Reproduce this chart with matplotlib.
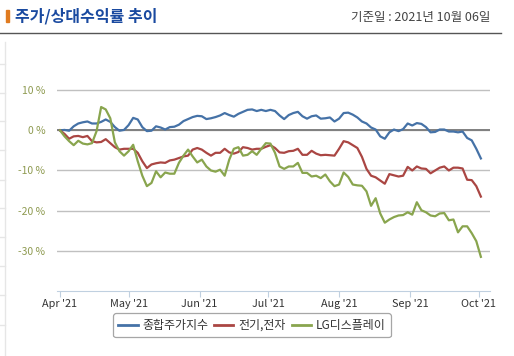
import matplotlib
matplotlib.use("Agg")
import matplotlib.pyplot as plt
from matplotlib.patches import Rectangle
from matplotlib.lines import Line2D
import pandas as pd

plt.rcParams['font.family'] = ['Noto Sans CJK KR', 'DejaVu Sans']

# one point every 2 calendar days from Apr 1 2021
dates = pd.date_range("2021-04-01", periods=93, freq="2D")

kospi = [0.0, 0.1, -0.1, 1.0, 1.7, 2.0, 2.2, 1.7, 1.7, 2.1,
         2.7, 2.1, 0.8, -0.1, 0.1, 1.3, 3.1, 2.7, 0.8, -0.2,
         -0.1, 1.0, 0.7, 0.2, 0.8, 0.9, 1.4, 2.3, 2.8, 3.3,
         3.6, 3.5, 2.8, 3.0, 3.3, 3.7, 4.3, 3.8, 3.4, 4.1,
         4.6, 5.1, 5.2, 4.8, 5.1, 4.8, 5.1, 4.8, 3.7, 2.8,
         3.8, 4.3, 4.6, 3.5, 2.9, 3.5, 3.7, 2.9, 3.0, 3.2,
         2.2, 2.9, 4.3, 4.4, 3.9, 3.2, 2.2, 1.7, 0.7, 0.2,
         -1.5, -2.1, -0.5, 0.2, -0.2, 0.3, 1.7, 1.2, 1.8, 1.6,
         0.8, -0.5, -0.4, 0.2, 0.2, -0.3, -0.3, -0.5, -0.3, -1.9,
         -2.5, -4.6, -7.0]

elec = [0.0, -0.9, -2.1, -1.5, -1.4, -1.7, -1.4, -2.7, -3.0, -2.9,
        -2.2, -3.2, -4.2, -4.8, -4.6, -4.6, -4.6, -5.6, -7.7, -9.4,
        -8.5, -8.2, -8.0, -8.1, -7.5, -7.3, -6.9, -6.5, -6.3, -4.8,
        -4.4, -4.8, -5.6, -6.3, -5.6, -5.6, -4.6, -5.5, -5.8, -5.4,
        -4.2, -4.4, -4.8, -4.6, -4.6, -4.1, -3.7, -4.4, -5.5, -5.6,
        -5.2, -5.1, -4.6, -6.1, -6.1, -5.1, -5.8, -6.2, -6.1, -6.2,
        -6.3, -4.6, -2.7, -3.0, -3.7, -4.4, -6.6, -9.6, -11.3, -11.7,
        -12.5, -13.3, -10.9, -11.2, -11.5, -11.3, -9.1, -10.0, -9.0, -9.5,
        -9.6, -10.7, -10.0, -9.3, -9.0, -10.0, -9.3, -9.3, -9.5, -12.3,
        -12.4, -13.9, -16.5]

lgd = [0.0, -1.5, -2.7, -3.7, -2.6, -3.3, -3.5, -3.2, -0.2, 5.8,
       5.2, 3.0, -3.0, -5.2, -6.3, -5.2, -3.6, -7.7, -11.3, -13.9,
       -13.1, -10.2, -11.7, -10.5, -10.8, -10.8, -8.1, -6.3, -4.8, -6.5,
       -8.0, -7.3, -9.0, -10.0, -10.3, -9.8, -11.3, -7.3, -4.6, -4.2,
       -6.3, -6.1, -5.2, -6.1, -4.6, -3.2, -3.3, -5.6, -9.0, -9.6,
       -9.0, -9.0, -8.1, -10.6, -10.6, -11.5, -11.3, -11.9, -11.0, -12.7,
       -13.9, -13.5, -10.5, -11.6, -13.5, -13.7, -13.8, -15.2, -18.8, -16.9,
       -20.7, -23.0, -22.2, -21.6, -21.2, -21.1, -20.4, -21.0, -17.9, -19.9,
       -20.4, -21.2, -21.4, -20.7, -20.6, -22.4, -22.2, -25.4, -23.9, -23.9,
       -25.6, -27.6, -31.5]

series_names = ["종합주가지수", "전기,전자", "LG디스플레이"]
series_colors = ["#4572a7", "#aa4643", "#89a54e"]
month_ticks = pd.date_range("2021-04-01", "2021-10-01", freq="MS")
month_labels = ["Apr '21", "May '21", "Jun '21", "Jul '21", "Aug '21", "Sep '21", "Oct '21"]

fig = plt.figure(figsize=(5.14, 3.56), dpi=100)
ax = fig.add_axes([0.110, 0.1826, 0.843, 0.677])

for vals, c in zip([kospi, elec, lgd], series_colors):
    ax.plot(dates, vals, color=c, lw=1.6, zorder=3, solid_joinstyle="round")

ax.set_ylim(-40, 20)
ax.set_yticks([-30, -20, -10, 0, 10])
ax.set_yticklabels(["-30 %", "-20 %", "-10 %", "0 %", "10 %"])
ax.set_xlim(pd.Timestamp("2021-03-30 12:00"), pd.Timestamp("2021-10-05 22:00"))
ax.set_xticks(month_ticks)
ax.set_xticklabels(month_labels)

ax.grid(axis="y", color="#c0c0c0", lw=1)
ax.axhline(0, color="#808080", lw=1.4, zorder=2)
for s in ["top", "right", "left"]:
    ax.spines[s].set_visible(False)
ax.spines["bottom"].set_color("#c0d0e0")
ax.tick_params(axis="y", length=0, labelsize=7.5, labelcolor="#8e9a50", pad=8)
ax.tick_params(axis="x", length=4, color="#c0d0e0", labelsize=7.8, labelcolor="#333333", pad=2)

leg_handles = [Line2D([], [], color=c, lw=2) for c in series_colors]
leg = fig.legend(leg_handles, series_names, loc="center", bbox_to_anchor=(0.49, 0.0865),
                 ncol=3, fontsize=8.6, frameon=True, fancybox=True, handlelength=1.6,
                 handletextpad=0.4, columnspacing=0.5, borderpad=0.45, labelcolor="#333333")
leg.get_frame().set_edgecolor("#909090")
leg.get_frame().set_linewidth(0.9)

# header
fig.patches.append(Rectangle((6 / 514, 1 - 22 / 356), 3 / 514, 12 / 356,
                             transform=fig.transFigure, color="#e07b20"))
fig.text(15 / 514, 1 - 16 / 356, "주가/상대수익률 추이", fontsize=11.5, fontweight="bold",
         color="#1a4aa0", va="center", ha="left")
fig.text(490 / 514, 1 - 17 / 356, "기준일 : 2021년 10월 06일", fontsize=9,
         color="#444444", va="center", ha="right")
fig.lines.append(Line2D([0, 501 / 514], [1 - 33 / 356] * 2, transform=fig.transFigure,
                        color="#555555", lw=1))

# faint page border at the left
fig.lines.append(Line2D([5 / 514] * 2, [0, 1 - 42 / 356], transform=fig.transFigure,
                        color="#e6e6e6", lw=1))
for yy in [64, 93, 121, 150, 180, 208, 237, 266, 295, 325]:
    fig.lines.append(Line2D([0, 5 / 514], [1 - yy / 356] * 2, transform=fig.transFigure,
                            color="#e6e6e6", lw=1))

fig.savefig("out.png", dpi=100)
